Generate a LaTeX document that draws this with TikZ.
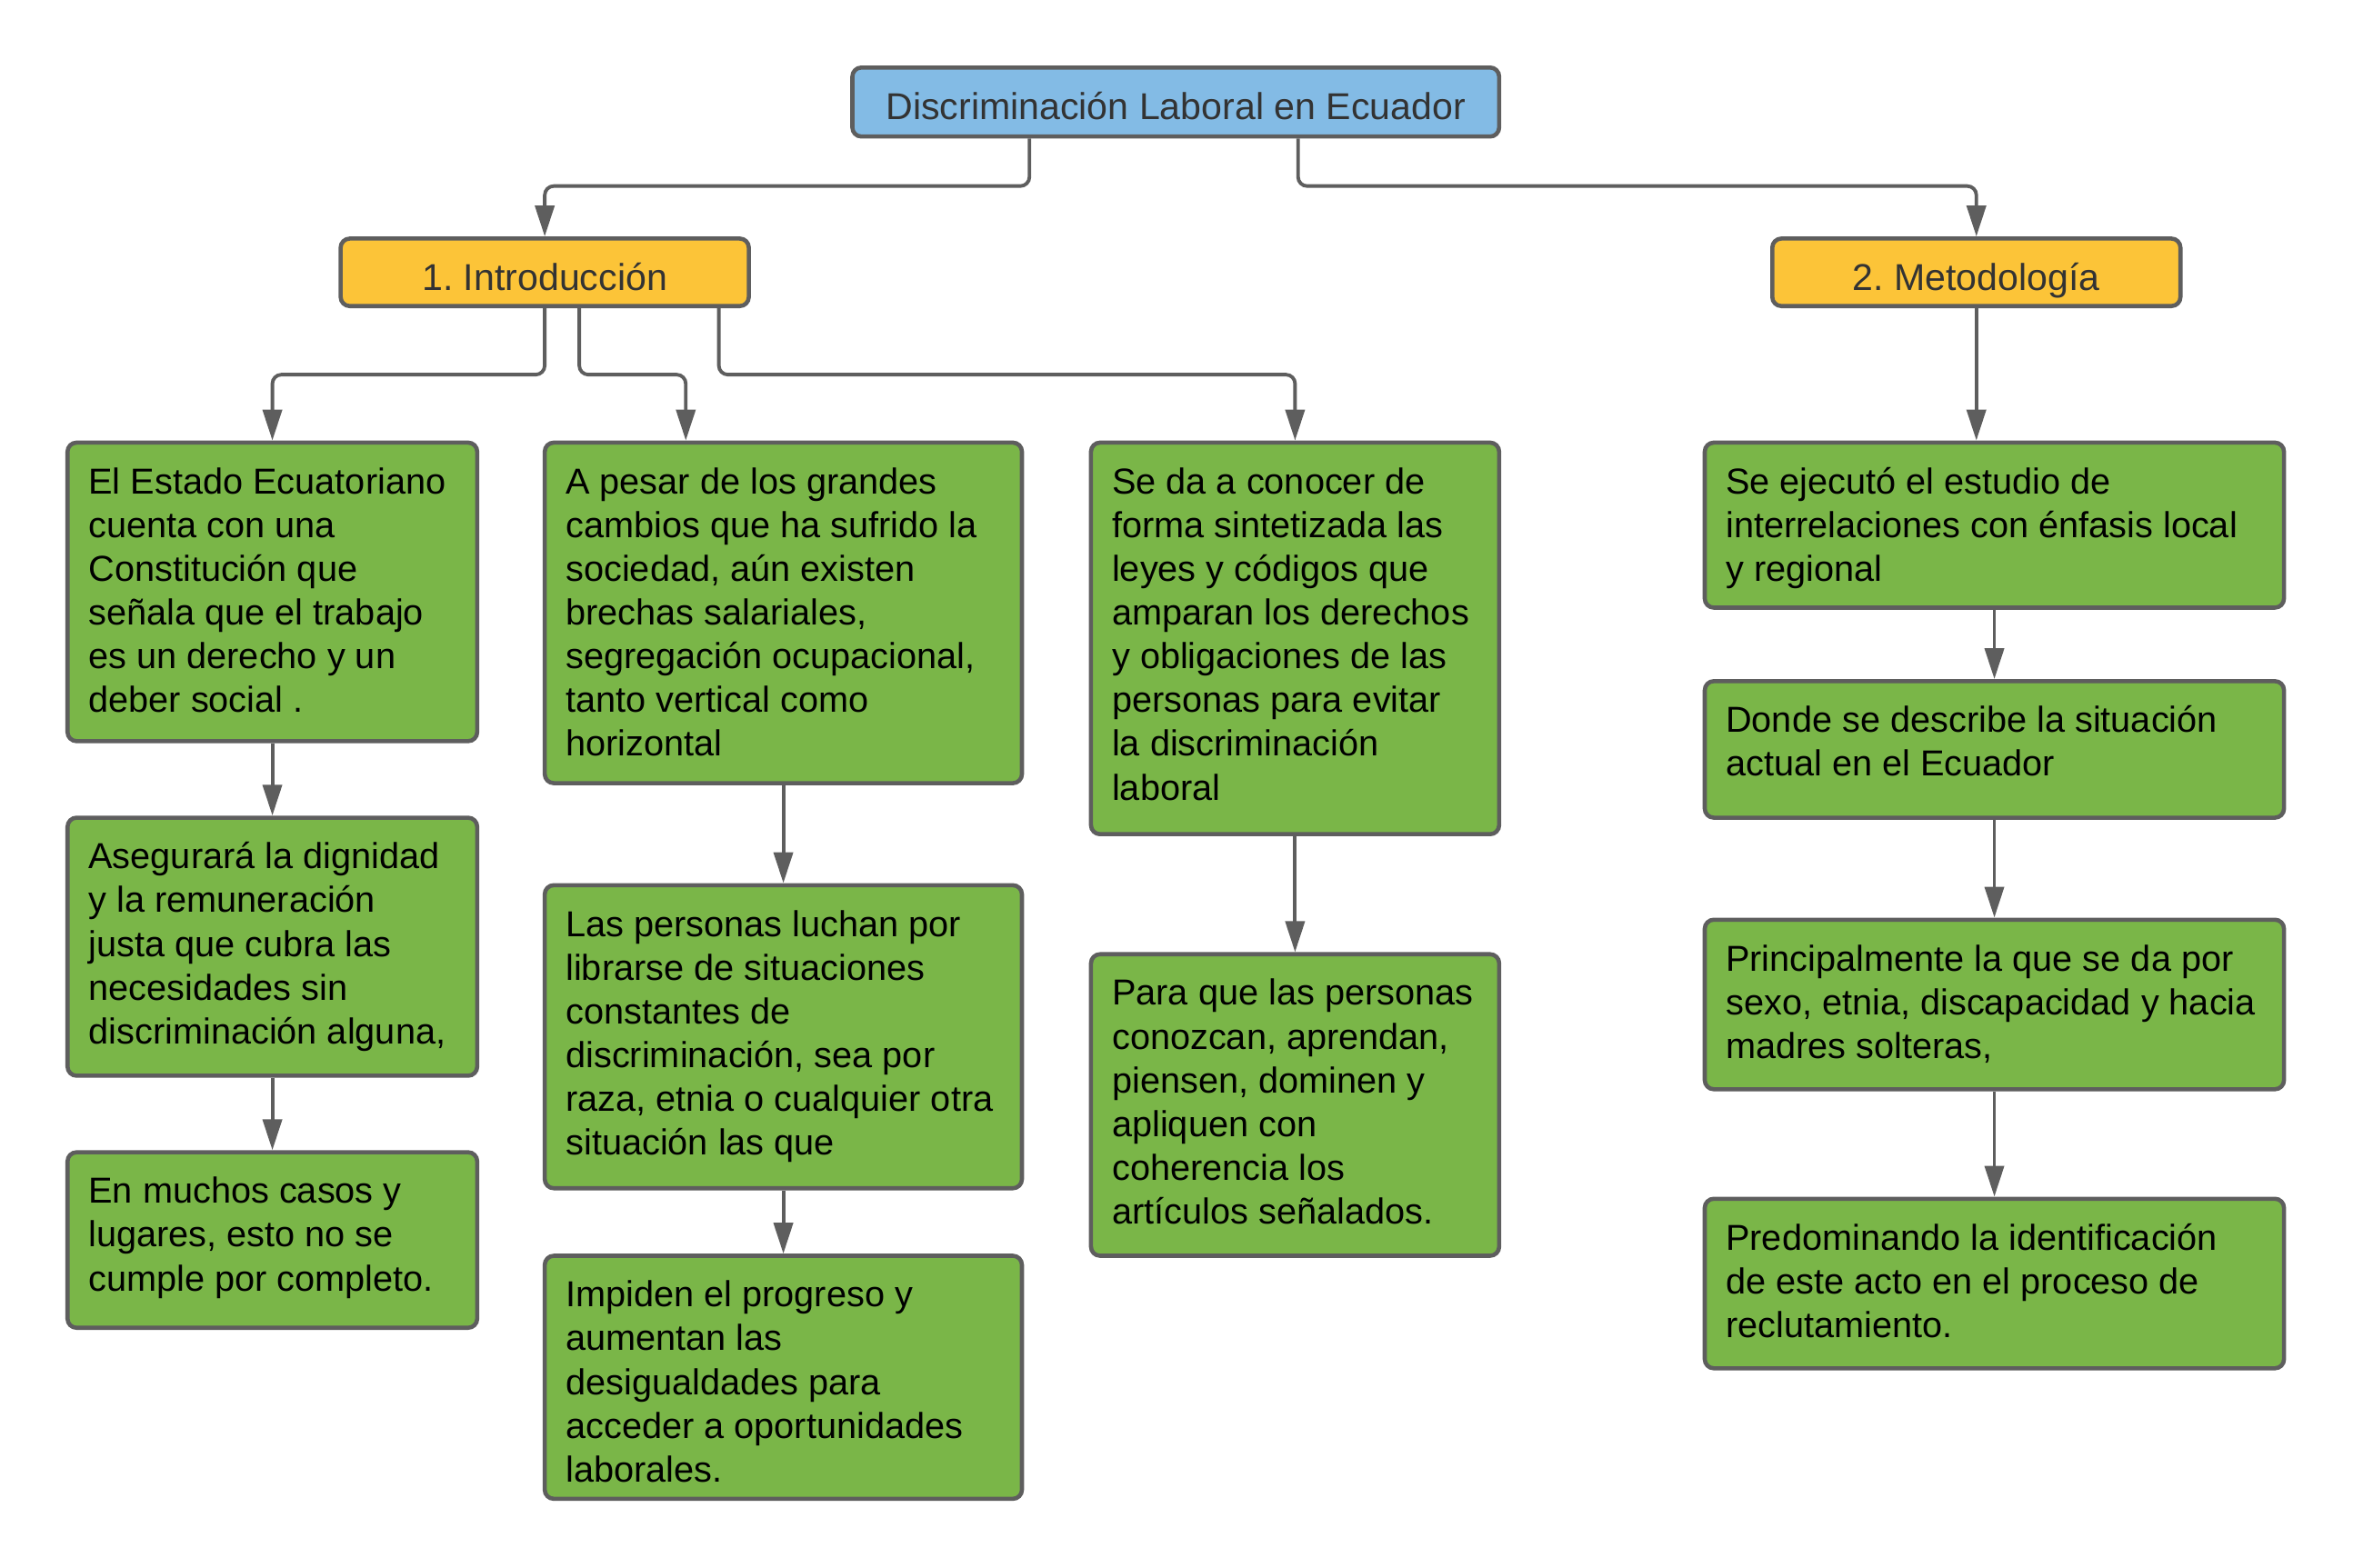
\documentclass[tikz,border=0pt]{standalone}
\usepackage{fontspec}
\setmainfont{Liberation Sans}
\frenchspacing
\usetikzlibrary{arrows.meta,fit,calc}
\definecolor{edgec}{HTML}{5E5E5E}
\definecolor{gfill}{HTML}{7AB648}
\definecolor{yfill}{HTML}{FCC438}
\definecolor{bfill}{HTML}{83BBE5}
\definecolor{ttext}{HTML}{333333}
\newcommand\fstrut{\rule{0pt}{9pt}}
\begin{document}
\begin{tikzpicture}[x=0.016505cm,y=-0.016505cm,
  box/.style={draw=edgec, line width=1.3pt, rounded corners=0.1cm, inner sep=0pt},
  gbox/.style={box, fill=gfill},
  ybox/.style={box, fill=yfill},
  bbox/.style={box, fill=bfill},
  txt/.style={anchor=north west, inner sep=0pt, align=left, text=black,
    font=\fontsize{11.3}{13.7}\selectfont\frenchspacing},
  htxt/.style={anchor=base, inner sep=0pt, text=ttext,
    font=\fontsize{11.7}{13.7}\selectfont\frenchspacing},
  conn/.style={draw=edgec, line width=1.1pt, rounded corners=0.1cm,
    -{Triangle[width=0.21cm,length=0.34cm]}}
]
\fill[white] (0,0) rectangle (1568,1045);
\useasboundingbox (0,0) rectangle (1568,1045);

% header boxes
\node[bbox, fit={(568,45) (999,91)}] (title) {};
\node[ybox, fit={(227,159) (499,204)}] (intro) {};
\node[ybox, fit={(1181,159) (1453,204)}] (meto) {};
\node[htxt] (title-t) at ([yshift=-0.195cm]title.center) {Discriminación Laboral en Ecuador};
\node[htxt] (intro-t) at ([yshift=-0.195cm]intro.center) {1. Introducción};
\node[htxt] (meto-t) at ([yshift=-0.195cm]meto.center) {2. Metodología};

% green boxes
\node[gbox, fit={(45,295) (318,494)}] (c1a) {};
\node[gbox, fit={(45,545) (318,717)}] (c1b) {};
\node[gbox, fit={(45,768) (318,885)}] (c1c) {};
\node[gbox, fit={(363,295) (681,522)}] (c2a) {};
\node[gbox, fit={(363,590) (681,792)}] (c2b) {};
\node[gbox, fit={(363,837) (681,999)}] (c2c) {};
\node[gbox, fit={(727,295) (999,556)}] (c3a) {};
\node[gbox, fit={(727,636) (999,837)}] (c3b) {};
\node[gbox, fit={(1136,295) (1522,405)}] (c4a) {};
\node[gbox, fit={(1136,454) (1522,545)}] (c4b) {};
\node[gbox, fit={(1136,613) (1522,726)}] (c4c) {};
\node[gbox, fit={(1136,799) (1522,912)}] (c4d) {};

\tikzset{intext/.style={txt, xshift=0.248cm, yshift=-0.262cm}}
\node[intext] (c1a-t) at (c1a.north west) {\fstrut El Estado Ecuatoriano\\cuenta con una\\Constitución que\\señala que el trabajo\\es un derecho y un\\deber social .};
\node[intext] (c1b-t) at (c1b.north west) {\fstrut Asegurará la dignidad\\y la remuneración\\justa que cubra las\\necesidades sin\\discriminación alguna,};
\node[intext] (c1c-t) at (c1c.north west) {\fstrut En muchos casos y\\lugares, esto no se\\cumple por completo.};
\node[intext] (c2a-t) at (c2a.north west) {\fstrut A pesar de los grandes\\cambios que ha sufrido la\\sociedad, aún existen\\brechas salariales,\\segregación ocupacional,\\tanto vertical como\\horizontal};
\node[intext] (c2b-t) at (c2b.north west) {\fstrut Las personas luchan por\\librarse de situaciones\\constantes de\\discriminación, sea por\\raza, etnia o cualquier otra\\situación las que};
\node[intext] (c2c-t) at (c2c.north west) {\fstrut Impiden el progreso y\\aumentan las\\desigualdades para\\acceder a oportunidades\\laborales.};
\node[intext] (c3a-t) at (c3a.north west) {\fstrut Se da a conocer de\\forma sintetizada las\\leyes y códigos que\\amparan los derechos\\y obligaciones de las\\personas para evitar\\la discriminación\\laboral};
\node[intext] (c3b-t) at (c3b.north west) {\fstrut Para que las personas\\conozcan, aprendan,\\piensen, dominen y\\apliquen con\\coherencia los\\artículos señalados.};
\node[intext] (c4a-t) at (c4a.north west) {\fstrut Se ejecutó el estudio de\\interrelaciones con énfasis local\\y regional};
\node[intext] (c4b-t) at (c4b.north west) {\fstrut Donde se describe la situación\\actual en el Ecuador};
\node[intext] (c4c-t) at (c4c.north west) {\fstrut Principalmente la que se da por\\sexo, etnia, discapacidad y hacia\\madres solteras,};
\node[intext] (c4d-t) at (c4d.north west) {\fstrut Predominando la identificación\\de este acto en el proceso de\\reclutamiento.};

% branch helper coordinates
\coordinate (tb1) at (686,124);
\coordinate (tb2) at (865,124);
\coordinate (ib1) at (363,249.7);
\coordinate (ib2) at (386,249.7);
\coordinate (ib3) at (479,249.7);
\coordinate (c2in) at (457,295);

% connectors
\draw[conn] (title.south -| tb1) -- (tb1) -| (intro.north);
\draw[conn] (title.south -| tb2) -- (tb2) -| (meto.north);
\draw[conn] (intro.south -| ib1) -- (ib1) -| (c1a.north);
\draw[conn] (intro.south -| ib2) -- (ib2) -| (c2a.north -| c2in);
\draw[conn] (intro.south -| ib3) -- (ib3) -| (c3a.north);
\draw[conn] (meto.south) -- (meto.south |- c4a.north);
\draw[conn] (c1a.south) -- (c1b.north);
\draw[conn] (c1b.south) -- (c1c.north);
\draw[conn] (c2a.south) -- (c2b.north);
\draw[conn] (c2b.south) -- (c2c.north);
\draw[conn] (c3a.south) -- (c3b.north);
\draw[conn] (c4a.south) -- (c4b.north);
\draw[conn] (c4b.south) -- (c4c.north);
\draw[conn] (c4c.south) -- (c4d.north);
\end{tikzpicture}
\end{document}
